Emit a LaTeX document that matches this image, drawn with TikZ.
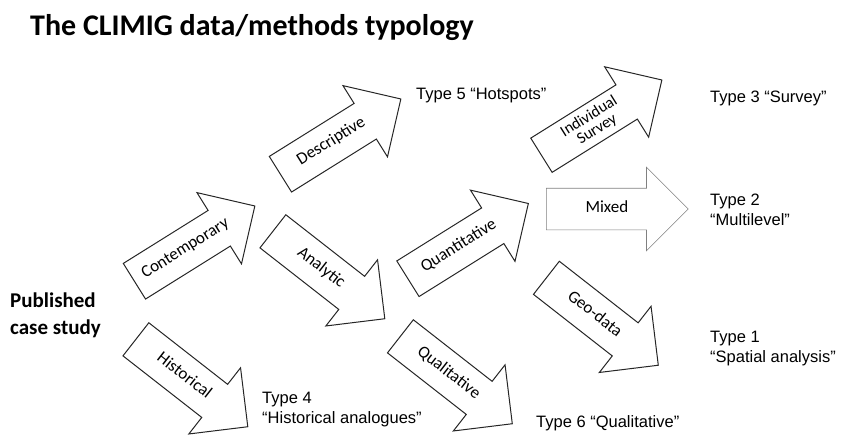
\documentclass[tikz,border=0pt]{standalone}
\usepackage{fontspec}
\setmainfont{Liberation Sans}
\newfontfamily\calibri{Carlito}
\usetikzlibrary{shapes.arrows}

\begin{document}
\begin{tikzpicture}[
  x=1pt, y=1pt,
  blk/.style={single arrow, draw=black!85, line width=1pt, fill=white, anchor=tail,
              font=\calibri\fontsize{17}{19}\selectfont,
              minimum height=142pt, minimum width=83pt,
              single arrow head extend=21pt, inner xsep=4pt, inner ysep=13pt,
              text height=11pt, text depth=4pt},
  up/.style={blk, rotate=32},
  down/.style={blk, rotate=-38},
  lbl/.style={anchor=base west, align=left, inner sep=0pt,
              font=\fontsize{16.5}{20}\selectfont}
]
\useasboundingbox (0,0) rectangle (842,-434);

\node (title) [anchor=base west, inner sep=0pt,
  font=\calibri\bfseries\fontsize{30}{36}\selectfont] at (30,-35)
  {The CLIMIG data/methods typology};
\node (pub) [anchor=base west, align=left, inner sep=0pt,
  font=\calibri\bfseries\fontsize{21}{27}\selectfont] at (10,-334)
  {Published\\case study};

% first split
\node (contemp) [up] at (134,-281.5) {Contemporary};
\node (hist) [down] at (135.5,-339) {Historical};
% second split
\node (descr) [up] at (280,-174.5) {Descriptive};
\node (analyt) [down] at (272.5,-231) {Analytic};
% third split
\node (quant) [up] at (407.5,-279) {Quantitative};
\node (qual) [down] at (400,-336) {Qualitative};
% fourth split
\node (indiv) [up, text height=, text depth=, inner ysep=5pt, align=center,
  font=\calibri\fontsize{16}{15}\selectfont] at (541,-155.5) {Individual\\Survey};
\node (mixed) [blk, draw=black!50, line width=0.6pt] at (546,-209) {Mixed};
\node (geo) [down] at (546,-277.5) {Geo-data};

% resulting types
\node (t5) [lbl] at (416,-99) {Type 5 “Hotspots”};
\node (t4) [lbl] at (262,-423) {Type 4\\“Historical analogues”};
\node (t6) [lbl] at (536,-427) {Type 6 “Qualitative”};
\node (t3) [lbl] at (710,-102) {Type 3 “Survey”};
\node (t2) [lbl] at (710,-225) {Type 2\\“Multilevel”};
\node (t1) [lbl] at (710,-362) {Type 1\\“Spatial analysis”};
\end{tikzpicture}
\end{document}
